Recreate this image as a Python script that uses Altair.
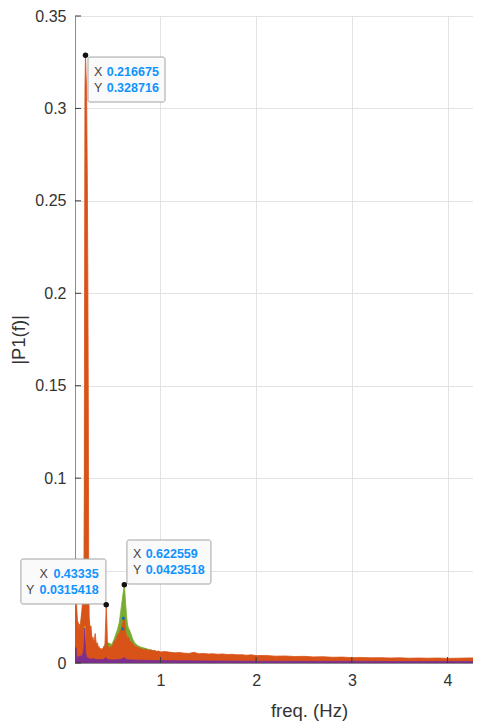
import altair as alt
import pandas as pd

FONT = "Liberation Sans"
TXT = "#333333"

x_ticks = [1, 2, 3, 4]
y_ticks = [0, 0.05, 0.1, 0.15, 0.2, 0.25, 0.3, 0.35]

# (freq, |P1|) upper envelope of each densely sampled spectrum
orange_pts = [
    (0.107, 0.029), (0.112, 0.033), (0.118, 0.035), (0.124, 0.031), (0.130, 0.024),
    (0.136, 0.019), (0.142, 0.022), (0.148, 0.017), (0.155, 0.021), (0.162, 0.018),
    (0.170, 0.024), (0.178, 0.028), (0.185, 0.033), (0.192, 0.036), (0.198, 0.040),
    (0.203, 0.050), (0.207, 0.200), (0.211, 0.310), (0.216675, 0.328716), (0.228, 0.310),
    (0.236, 0.260), (0.242, 0.200), (0.246, 0.140), (0.250, 0.050), (0.255, 0.025),
    (0.260, 0.021), (0.267, 0.018),
    (0.274, 0.020), (0.281, 0.015), (0.288, 0.012), (0.295, 0.014), (0.302, 0.011),
    (0.310, 0.013), (0.318, 0.016), (0.326, 0.012), (0.334, 0.009), (0.342, 0.011),
    (0.350, 0.008), (0.358, 0.009), (0.366, 0.007), (0.374, 0.008), (0.382, 0.006),
    (0.390, 0.008), (0.398, 0.007), (0.405, 0.009), (0.412, 0.007), (0.420, 0.010),
    (0.426, 0.020), (0.43335, 0.0315418), (0.440, 0.022), (0.446, 0.011), (0.452, 0.008),
    (0.460, 0.009), (0.468, 0.007), (0.476, 0.008), (0.484, 0.009), (0.492, 0.007),
    (0.500, 0.010), (0.508, 0.009), (0.516, 0.012), (0.524, 0.011), (0.532, 0.013),
    (0.540, 0.012), (0.548, 0.015), (0.556, 0.014), (0.564, 0.016), (0.572, 0.015),
    (0.580, 0.018), (0.588, 0.017), (0.596, 0.020), (0.604, 0.021), (0.612, 0.024),
    (0.620, 0.025), (0.628, 0.022), (0.636, 0.017), (0.644, 0.015), (0.652, 0.014),
    (0.660, 0.013), (0.668, 0.014), (0.676, 0.012), (0.684, 0.011), (0.692, 0.012),
    (0.700, 0.010), (0.710, 0.011), (0.720, 0.009), (0.730, 0.0095), (0.740, 0.0085),
    (0.750, 0.009), (0.760, 0.008), (0.770, 0.0085), (0.780, 0.0075), (0.790, 0.008),
    (0.800, 0.0078), (0.820, 0.0072), (0.840, 0.0075), (0.860, 0.0070), (0.880, 0.0068),
    (0.900, 0.0072), (0.920, 0.0065), (0.940, 0.0068), (0.960, 0.0062), (0.980, 0.0065),
    (1.00, 0.0060), (1.05, 0.0062), (1.10, 0.0058), (1.15, 0.0055), (1.20, 0.0057),
    (1.25, 0.0053), (1.30, 0.0052), (1.35, 0.0058), (1.40, 0.0050), (1.45, 0.0052),
    (1.50, 0.0049), (1.55, 0.0050), (1.60, 0.0047), (1.65, 0.0049), (1.70, 0.0046),
    (1.75, 0.0047), (1.80, 0.0044), (1.85, 0.0045), (1.90, 0.0042), (1.95, 0.0044),
    (2.00, 0.0040), (2.10, 0.0041), (2.20, 0.0037), (2.30, 0.0038), (2.40, 0.0035),
    (2.50, 0.0036), (2.60, 0.0033), (2.70, 0.0034), (2.80, 0.0031), (2.90, 0.0032),
    (3.00, 0.0029), (3.10, 0.0030), (3.20, 0.0028), (3.30, 0.0029), (3.40, 0.0027),
    (3.50, 0.0028), (3.60, 0.0026), (3.70, 0.0027), (3.80, 0.0026), (3.90, 0.0027),
    (4.00, 0.0025), (4.10, 0.0026), (4.20, 0.0027), (4.30, 0.0028), (4.339, 0.0029),
]

green_pts = [
    (0.107, 0.022), (0.115, 0.030), (0.125, 0.027), (0.135, 0.020), (0.145, 0.016),
    (0.160, 0.019), (0.175, 0.025), (0.190, 0.030), (0.200, 0.040), (0.210, 0.120),
    (0.2167, 0.150), (0.225, 0.100), (0.240, 0.040), (0.250, 0.024), (0.258, 0.021),
    (0.265, 0.020), (0.275, 0.016), (0.290, 0.012), (0.310, 0.012), (0.330, 0.010),
    (0.350, 0.008), (0.380, 0.007), (0.410, 0.008), (0.430, 0.012), (0.440, 0.010),
    (0.450, 0.011), (0.470, 0.0105), (0.490, 0.010), (0.510, 0.012), (0.530, 0.015),
    (0.550, 0.018), (0.570, 0.022), (0.585, 0.028), (0.600, 0.034), (0.610, 0.038),
    (0.616, 0.040), (0.622559, 0.0423518), (0.628, 0.039), (0.635, 0.033), (0.645, 0.026),
    (0.655, 0.021), (0.665, 0.019), (0.675, 0.018), (0.690, 0.016), (0.710, 0.013),
    (0.730, 0.011), (0.760, 0.0095), (0.800, 0.0085), (0.850, 0.0078), (0.900, 0.0070),
    (1.00, 0.0058), (1.20, 0.0050), (1.60, 0.0042), (2.00, 0.0035), (3.00, 0.0022),
    (4.339, 0.0020),
]

purple_pts = [
    (0.107, 0.009), (0.112, 0.007), (0.118, 0.008), (0.124, 0.004), (0.130, 0.003),
    (0.140, 0.0035), (0.150, 0.003), (0.160, 0.004), (0.170, 0.003), (0.180, 0.004),
    (0.190, 0.005), (0.198, 0.008), (0.204, 0.015), (0.209, 0.019), (0.214, 0.012),
    (0.220, 0.005), (0.230, 0.003), (0.250, 0.0025), (0.280, 0.002), (0.300, 0.0025),
    (0.330, 0.0018), (0.360, 0.002), (0.400, 0.0017), (0.430, 0.003), (0.450, 0.0018),
    (0.500, 0.0016), (0.550, 0.0018), (0.600, 0.0022), (0.620, 0.003), (0.650, 0.0018),
    (0.700, 0.0016), (0.800, 0.0015), (0.900, 0.0014), (1.00, 0.0013), (1.20, 0.0012),
    (1.50, 0.0011), (2.00, 0.0010), (2.50, 0.0009), (3.00, 0.0009), (3.50, 0.0008),
    (4.00, 0.0008), (4.339, 0.0008),
]

blue_pts = [
    (0.107, 0.0015), (0.150, 0.0008), (0.200, 0.0010), (0.2167, 0.0030), (0.250, 0.0006),
    (0.400, 0.0004), (0.595, 0.0010), (0.612, 0.0015), (0.630, 0.0008), (1.00, 0.0003),
    (2.00, 0.0002), (4.339, 0.0002),
]
# local blue maxima that poke through at the 0.62 Hz peak
blue_tips = [(0.6055, 0.0184), (0.6124, 0.0242)]

yellow_pts = [
    (0.107, 0.0010), (0.180, 0.0008), (0.204, 0.0030), (0.209, 0.0197), (0.214, 0.0030),
    (0.250, 0.0006), (0.620, 0.0009), (1.00, 0.0004), (4.339, 0.0003),
]

tip_f = [0.216675, 0.43335, 0.622559]
tip_v = [0.328716, 0.0315418, 0.0423518]

ORANGE = "#D95319"
GREEN = "#77AC30"
PURPLE = "#7E2F8E"
BLUE = "#0072BD"
YELLOW = "#EDB120"
TIPBLUE = "#0F93FF"

W, H = 398, 647


def df(pts):
    return pd.DataFrame({"f": [p[0] for p in pts], "v": [p[1] for p in pts]})


xs = alt.Scale(domain=[0.107, 4.266], nice=False, zero=False)
ys = alt.Scale(domain=[0, 0.35], nice=False, zero=False)

X = alt.X(
    "f:Q", scale=xs, title="freq. (Hz)",
    axis=alt.Axis(values=x_ticks, grid=True, ticks=False, tickSize=0, labelPadding=9,
                  titleX=234, titleY=47, titleBaseline="middle", titleAlign="center"),
)
# the 0.05 label sits under a data tip box in the reference, so it is not shown
Y = alt.Y(
    "v:Q", scale=ys, title="|P1(f)|",
    axis=alt.Axis(values=y_ticks, grid=True, ticks=False, tickSize=0, labelPadding=9,
                  labelExpr="datum.value == 0.05 ? '' : format(datum.value, '~g')",
                  titleX=-57, titleY=H / 2, titleAngle=270,
                  titleBaseline="middle", titleAlign="center"),
)


def band(pts, color, lo):
    return alt.Chart(df(pts)).mark_area(
        color=color, opacity=1, stroke=color, strokeWidth=0.8, clip=True
    ).encode(x=X, y=Y, y2=alt.datum(lo))


def line(pts, color, w=1.2):
    return alt.Chart(df(pts)).mark_line(color=color, strokeWidth=w, clip=True).encode(x=X, y=Y)


green = band(green_pts, GREEN, 0.0007)
orange = band(orange_pts, ORANGE, 0.0007)
yellow = line(yellow_pts, YELLOW, 1.5)
purple = band(purple_pts, PURPLE, 0)
blue = line(blue_pts, BLUE, 1.0)
blue_pk = alt.Chart(df(blue_tips)).mark_square(size=7, color=BLUE, opacity=1).encode(x=X, y=Y)

yt = alt.Chart(pd.DataFrame({"v": y_ticks})).mark_rule(color="#3a3a3a", strokeWidth=1).encode(
    y=Y, x=alt.value(0), x2=alt.value(6))
xt = alt.Chart(pd.DataFrame({"f": x_ticks})).mark_rule(color="#3a3a3a", strokeWidth=1).encode(
    x=X, y=alt.value(H), y2=alt.value(H - 6))

tips = pd.DataFrame({"f": tip_f, "v": tip_v})


def tip(i, box, lab_dx, val_dx, dys, align):
    d = tips.iloc[[i]]
    base = alt.Chart(d)
    rect = base.mark_rect(
        fill="#fafafa", stroke="#a3a3a3", strokeWidth=1, cornerRadius=2,
        xOffset=box[0], x2Offset=box[1], yOffset=box[2], y2Offset=box[3],
    ).encode(x=X, x2="f", y=Y, y2="v")
    layers = [rect]
    for k, (name, fld) in enumerate([("X", "f"), ("Y", "v")]):
        layers.append(base.mark_text(
            align=align, baseline="middle", dx=lab_dx[k], dy=dys[k],
            font=FONT, fontSize=12.5, color="#444444",
        ).encode(x=X, y=Y, text=alt.value(name)))
        layers.append(base.mark_text(
            align=align, baseline="middle", dx=val_dx, dy=dys[k],
            font=FONT, fontSize=12.5, fontWeight="bold", color=TIPBLUE,
        ).encode(x=X, y=Y, text=alt.Text(f"{fld}:Q", format=".6~g")))
    layers.append(base.mark_circle(size=30, color="#111111", opacity=1).encode(x=X, y=Y))
    return layers


tip_layers = []
tip_layers += tip(0, (2.5, 79.5, 1.7, 46.7), (8.5, 8.5), 21.2, (16.7, 32.7), "left")
tip_layers += tip(1, (-85.3, -0.3, -45.7, -0.7), (-58.5, -72.0), -7.6, (-30.7, -14.7), "right")
tip_layers += tip(2, (2.6, 86.6, -44.7, -0.7), (8.6, 8.6), 21.3, (-30.7, -14.7), "left")

chart = alt.layer(
    green, orange, yellow, blue, purple, blue_pk, yt, xt, *tip_layers
).properties(
    width=W, height=H,
    padding={"left": 67, "top": 8, "right": 0, "bottom": 58},
    autosize=alt.AutoSizeParams(type="none"),
    background="white",
).configure_view(
    stroke="transparent"
).configure_axis(
    domainColor="#8c8c8c", domainWidth=1,
    gridColor="#e3e3e3", gridWidth=1,
    labelFont=FONT, labelFontSize=16, labelColor=TXT,
    titleFont=FONT, titleFontSize=18.5, titleColor=TXT, titleFontWeight="normal",
)

chart.save("out.html", embed_options={"renderer": "svg", "actions": False})
